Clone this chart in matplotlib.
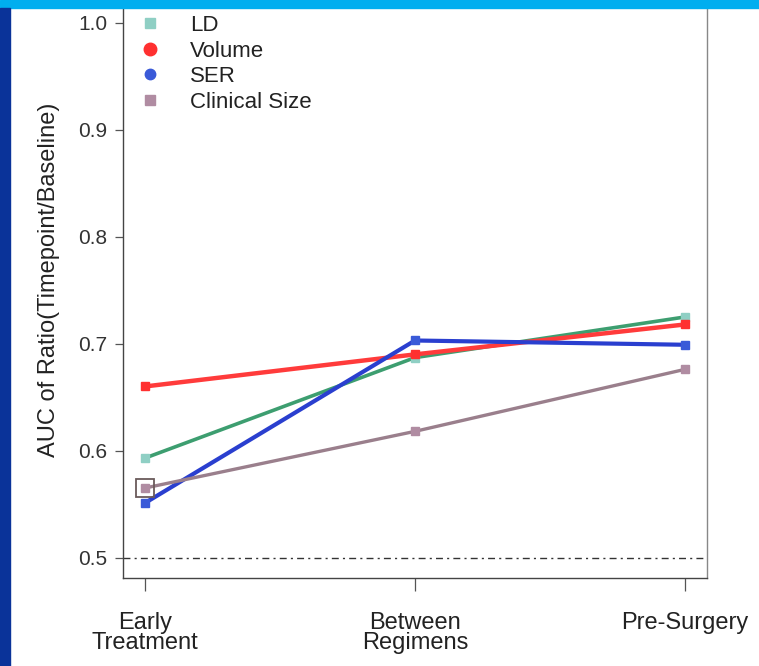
import matplotlib
matplotlib.use("Agg")
import matplotlib.pyplot as plt
from matplotlib.lines import Line2D
from matplotlib.patches import Rectangle

plt.rcParams['font.family'] = ['Liberation Sans', 'DejaVu Sans']

timepoints = ["Early\nTreatment", "Between\nRegimens", "Pre-Surgery"]
series_names = ["LD", "Volume", "SER", "Clinical Size"]
ld = [0.593, 0.687, 0.725]
volume = [0.660, 0.690, 0.718]
ser = [0.551, 0.703, 0.699]
clinical = [0.565, 0.618, 0.676]
reference_auc = 0.5
yticks = [0.5, 0.6, 0.7, 0.8, 0.9, 1.0]

line_colors = ["#3d9e70", "#ff3b3b", "#2a3fcf", "#9a7f8c"]
marker_colors = ["#8fcfc4", "#ff3030", "#3a5ad8", "#b08ca2"]

W, H = 759, 666
fig = plt.figure(figsize=(W / 100, H / 100), dpi=100)
fig.patch.set_facecolor("white")

ax = fig.add_axes([123 / W, (H - 578) / H, (707 - 123) / W, 578 / H])
x = list(range(len(timepoints)))

# reference line
ax.axhline(reference_auc, color="#333333", lw=1.0, linestyle=(0, (5, 3, 1.5, 3)), zorder=1)

data = [ld, volume, ser, clinical]
widths = [2.6, 3.2, 3.0, 2.4]
for vals, lc, mc, lw in zip(data, line_colors, marker_colors, widths):
    ax.plot(x, vals, color=lc, lw=lw, marker="s", ms=6, mfc=mc, mec=mc, zorder=3)

# open square marking early clinical size
ax.plot(x[0], clinical[0], marker="s", ms=13, mfc="none", mec="#6a5a5a", mew=1.3, zorder=4)

ax.set_xlim(-22 / 270, 2 + 22 / 270)
ax.set_ylim(0.5 - 20.5 / 1069, 1.0 + 23 / 1069)
ax.set_xticks(x)
ax.set_xticklabels(timepoints, fontsize=17, color="#222222", linespacing=0.9, va="top")
ax.set_yticks(yticks)
ax.set_yticklabels([f"{v:.1f}" for v in yticks], fontsize=15, color="#333333")
ax.tick_params(axis="y", length=6, width=0.9, color="#555555", pad=5)
ax.tick_params(axis="x", length=9.5, width=0.9, color="#555555", pad=15)

for s in ["left", "bottom", "right"]:
    ax.spines[s].set_color("#444444")
    ax.spines[s].set_linewidth(1.0)
ax.spines["right"].set_color("#888888")
ax.spines["top"].set_visible(False)

ax.set_ylabel("AUC of Ratio(Timepoint/Baseline)", fontsize=17, color="#222222")
ax.yaxis.set_label_coords(-0.108, 0.516)

handles = [
    Line2D([], [], linestyle="none", marker="s", ms=7, mfc=marker_colors[0], mec=marker_colors[0]),
    Line2D([], [], linestyle="none", marker="o", ms=9, mfc=marker_colors[1], mec=marker_colors[1]),
    Line2D([], [], linestyle="none", marker="o", ms=7.5, mfc=marker_colors[2], mec=marker_colors[2]),
    Line2D([], [], linestyle="none", marker="s", ms=7, mfc=marker_colors[3], mec=marker_colors[3]),
]
leg = ax.legend(handles, series_names, loc="upper left", bbox_to_anchor=(0.0115, 0.989),
                frameon=False, fontsize=16, labelspacing=0.2, handlelength=1.0,
                handletextpad=1.3, borderaxespad=0.0)
for t in leg.get_texts():
    t.set_color("#222222")

# slide decoration bars
fig.add_artist(Rectangle((0, 1 - 8 / H), 1, 8 / H, transform=fig.transFigure,
                         color="#00aeef", zorder=10))
fig.add_artist(Rectangle((0, 0), 10 / W, 1 - 8 / H, transform=fig.transFigure,
                         color="#0a3399", zorder=10))

fig.savefig("out.png", dpi=100)
